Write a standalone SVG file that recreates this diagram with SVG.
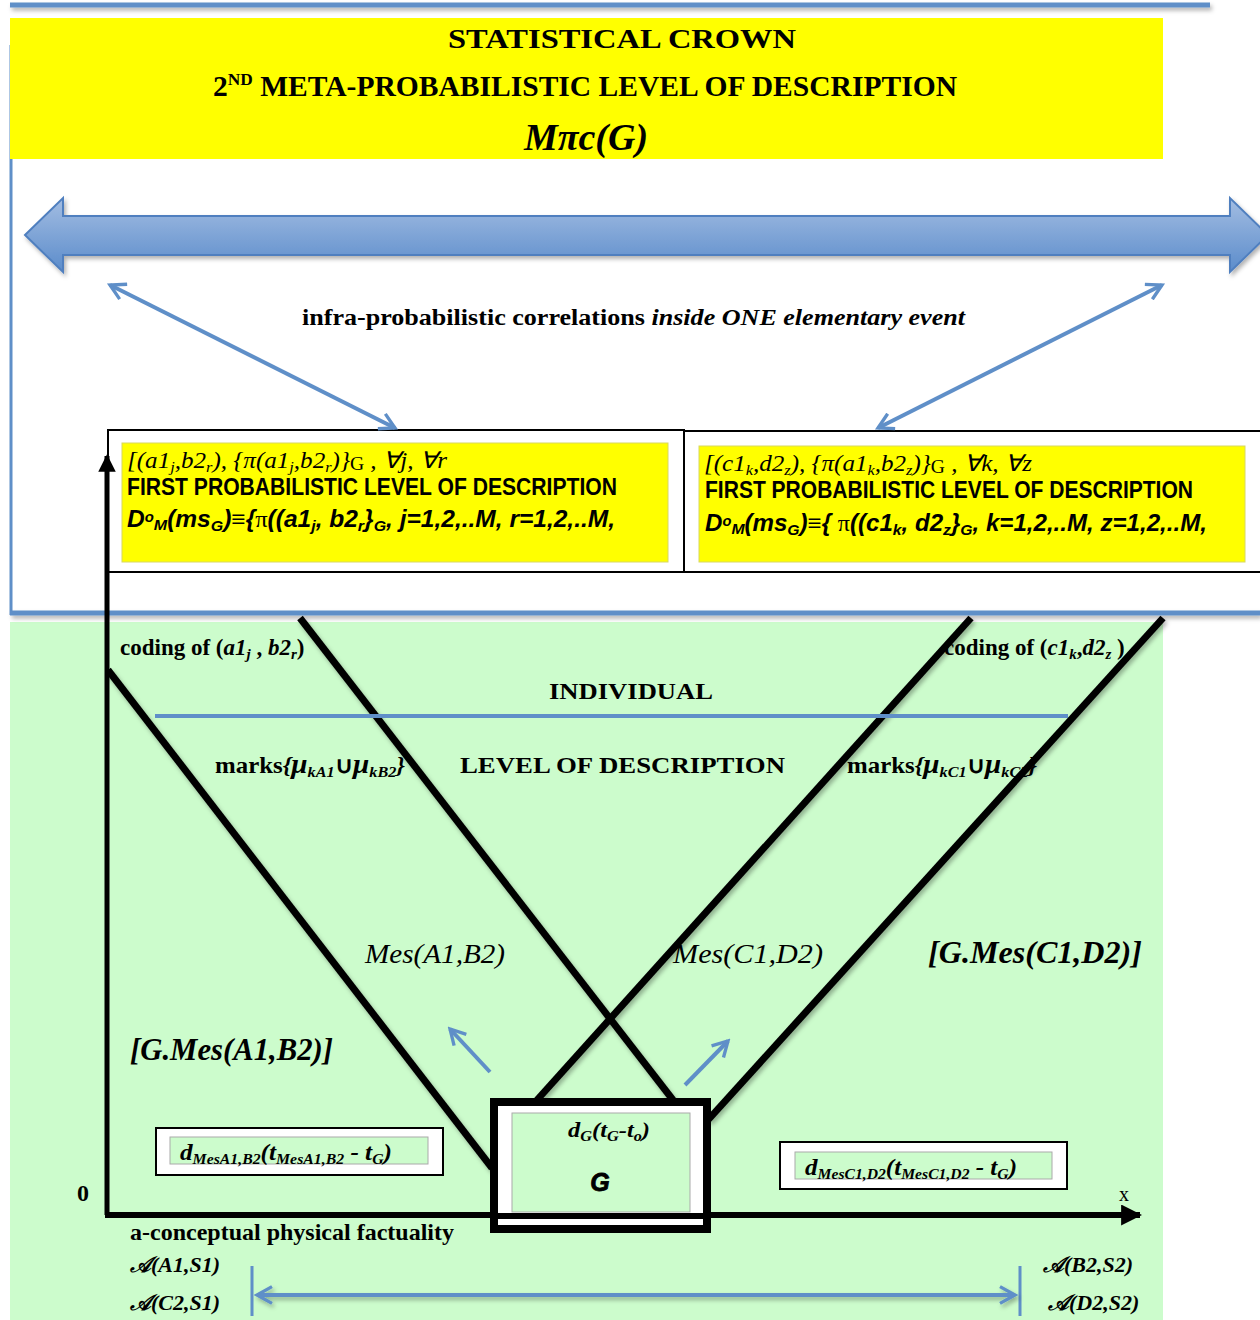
<svg xmlns="http://www.w3.org/2000/svg" width="1260" height="1320" viewBox="0 0 1260 1320">
<style>
.ser{font-family:"Liberation Serif","Times New Roman",serif}
.sans{font-family:"Liberation Sans",Arial,sans-serif}
.b{font-weight:bold}
.i{font-style:italic}
.blk{stroke:#000;stroke-width:7;fill:none}
.blu{stroke:#5f8fc8;fill:none}
</style>
<defs>
<linearGradient id="bigArr" x1="0" y1="0" x2="0" y2="1">
<stop offset="0" stop-color="#a3bde2"/>
<stop offset="1" stop-color="#5b8ccb"/>
</linearGradient>
<filter id="sh" filterUnits="userSpaceOnUse" x="0" y="0" width="1260" height="1320">
<feDropShadow dx="2" dy="3" stdDeviation="2" flood-color="#000" flood-opacity="0.3"/>
</filter>
<marker id="chev" viewBox="0 0 12 12" refX="10" refY="6" markerWidth="5" markerHeight="5" orient="auto-start-reverse" markerUnits="strokeWidth">
<path d="M1,1 L10,6 L1,11" fill="none" stroke="#5f8fc8" stroke-width="2"/>
</marker>
<marker id="blkArr" viewBox="0 0 10 10" refX="9" refY="5" markerWidth="3.5" markerHeight="3.5" orient="auto" markerUnits="strokeWidth">
<path d="M0,0 L10,5 L0,10 Z" fill="#000"/>
</marker>
</defs>

<rect x="0" y="0" width="1260" height="1320" fill="#fff"/>

<g id="background">
<rect x="10" y="622" width="1153" height="698" fill="#ccfccc"/>
<line x1="10" y1="5" x2="1210" y2="5" stroke="#5f8fc8" stroke-width="5" filter="url(#sh)"/>
<line x1="11" y1="45" x2="11" y2="615" stroke="#5f8fc8" stroke-width="3"/>
<line x1="10" y1="613" x2="1260" y2="613" stroke="#5f8fc8" stroke-width="5" filter="url(#sh)"/>
</g>

<g id="header">
<rect x="10" y="18" width="1153" height="141" fill="#ffff00"/>
<text class="ser b" x="622" y="48" font-size="28" text-anchor="middle" textLength="348" lengthAdjust="spacingAndGlyphs">STATISTICAL CROWN</text>
<text class="ser b" x="213" y="96" font-size="29" textLength="744" lengthAdjust="spacingAndGlyphs">2<tspan font-size="17" dy="-11">ND</tspan><tspan dy="11"> META-PROBABILISTIC LEVEL OF DESCRIPTION</tspan></text>
<text class="ser b i" x="586" y="150" font-size="38" text-anchor="middle">Mπc(G)</text>
</g>

<g id="big-arrow" filter="url(#sh)">
<path d="M25,235 L63,198 L63,216 L1230,216 L1230,198 L1268,235 L1230,272 L1230,255 L63,255 L63,272 Z" fill="url(#bigArr)" stroke="#4f7fbf" stroke-width="2"/>
</g>

<g id="correlations-label">
<text class="ser b" x="302" y="325" font-size="23" textLength="663" lengthAdjust="spacingAndGlyphs">infra-probabilistic correlations <tspan class="i"> inside ONE elementary event</tspan></text>
</g>

<g id="box-left">
<rect x="108" y="430" width="576" height="142" fill="#fff" stroke="#000" stroke-width="2"/>
<rect x="122" y="443" width="546" height="119" fill="#ffff00" stroke="#d8d860" stroke-width="1"/>
<text class="ser i" x="127" y="468" font-size="23" textLength="320" lengthAdjust="spacingAndGlyphs">[(a1<tspan font-size="15" dy="4">j</tspan><tspan dy="-4">,b2</tspan><tspan font-size="15" dy="4">r</tspan><tspan dy="-4">),  {π(a1</tspan><tspan font-size="15" dy="4">j</tspan><tspan dy="-4">,b2</tspan><tspan font-size="15" dy="4">r</tspan><tspan dy="-4">)}</tspan><tspan font-style="normal" font-size="18" dy="2">G</tspan><tspan dy="-2"> ,   ∀j,  ∀r</tspan></text>
<text class="sans b" x="127" y="495" font-size="23" textLength="490" lengthAdjust="spacingAndGlyphs">FIRST PROBABILISTIC LEVEL OF DESCRIPTION</text>
<text class="sans b i" x="127" y="527" font-size="23" textLength="488" lengthAdjust="spacingAndGlyphs">D<tspan font-size="14" dy="-5">o</tspan><tspan font-size="15" dy="8">M</tspan><tspan dy="-3">(ms</tspan><tspan font-size="15" dy="4">G</tspan><tspan dy="-4">)≡{</tspan><tspan class="ser" font-weight="normal" font-style="normal">π</tspan><tspan>((a1</tspan><tspan font-size="15" dy="4">j</tspan><tspan dy="-4">, b2</tspan><tspan font-size="15" dy="4">r</tspan><tspan dy="-4">}</tspan><tspan font-size="15" dy="4">G</tspan><tspan dy="-4">,  j=1,2,..M,   r=1,2,..M,</tspan></text>
</g>

<g id="box-right">
<rect x="684" y="431" width="590" height="141" fill="#fff" stroke="#000" stroke-width="2"/>
<rect x="699" y="446" width="546" height="116" fill="#ffff00" stroke="#d8d860" stroke-width="1"/>
<text class="ser i" x="704" y="471" font-size="23" textLength="328" lengthAdjust="spacingAndGlyphs">[(c1<tspan font-size="15" dy="4">k</tspan><tspan dy="-4">,d2</tspan><tspan font-size="15" dy="4">z</tspan><tspan dy="-4">),  {π(a1</tspan><tspan font-size="15" dy="4">k</tspan><tspan dy="-4">,b2</tspan><tspan font-size="15" dy="4">z</tspan><tspan dy="-4">)}</tspan><tspan font-style="normal" font-size="18" dy="2">G</tspan><tspan dy="-2"> ,   ∀k,  ∀z</tspan></text>
<text class="sans b" x="705" y="498" font-size="23" textLength="488" lengthAdjust="spacingAndGlyphs">FIRST PROBABILISTIC LEVEL OF DESCRIPTION</text>
<text class="sans b i" x="705" y="531" font-size="23" textLength="502" lengthAdjust="spacingAndGlyphs">D<tspan font-size="14" dy="-5">o</tspan><tspan font-size="15" dy="8">M</tspan><tspan dy="-3">(ms</tspan><tspan font-size="15" dy="4">G</tspan><tspan dy="-4">)≡{ </tspan><tspan class="ser" font-weight="normal" font-style="normal">π</tspan><tspan>((c1</tspan><tspan font-size="15" dy="4">k</tspan><tspan dy="-4">, d2</tspan><tspan font-size="15" dy="4">z</tspan><tspan dy="-4">}</tspan><tspan font-size="15" dy="4">G</tspan><tspan dy="-4">,  k=1,2,..M,   z=1,2,..M,</tspan></text>
</g>

<g id="connectors">
<line x1="110" y1="285" x2="395" y2="428" class="blu" stroke-width="4" marker-start="url(#chev)" marker-end="url(#chev)"/>
<line x1="1162" y1="285" x2="878" y2="428" class="blu" stroke-width="4" marker-start="url(#chev)" marker-end="url(#chev)"/>
<line x1="107" y1="1215" x2="107" y2="456" stroke="#000" stroke-width="5" marker-end="url(#blkArr)"/>
<line x1="105" y1="1215" x2="1140" y2="1215" stroke="#000" stroke-width="6" marker-end="url(#blkArr)"/>
<g filter="url(#sh)">
<line x1="108" y1="670" x2="492" y2="1168" class="blk"/>
<line x1="300" y1="618" x2="673" y2="1100" class="blk"/>
<line x1="971" y1="618" x2="537" y2="1100" class="blk"/>
<line x1="1163" y1="618" x2="708" y2="1120" class="blk"/>
</g>
<line x1="155" y1="716" x2="1068" y2="716" class="blu" stroke-width="4"/>
<line x1="490" y1="1072" x2="450" y2="1029" class="blu" stroke-width="4" marker-end="url(#chev)"/>
<line x1="685" y1="1085" x2="728" y2="1041" class="blu" stroke-width="4" marker-end="url(#chev)"/>
<line x1="252" y1="1266" x2="252" y2="1316" class="blu" stroke-width="3"/>
<line x1="1020" y1="1266" x2="1020" y2="1316" class="blu" stroke-width="3"/>
<line x1="257" y1="1295" x2="1015" y2="1295" class="blu" stroke-width="4" marker-start="url(#chev)" marker-end="url(#chev)" filter="url(#sh)"/>
</g>

<g id="individual-level">
<text class="ser b" x="120" y="655" font-size="23">coding of (<tspan class="i">a1</tspan><tspan class="i" font-size="15" dy="4">j</tspan><tspan dy="-4"> , </tspan><tspan class="i">b2</tspan><tspan class="i" font-size="15" dy="4">r</tspan><tspan dy="-4">)</tspan></text>
<text class="ser b" x="944" y="655" font-size="23">coding of (<tspan class="i">c1</tspan><tspan class="i" font-size="15" dy="4">k</tspan><tspan dy="-4">,</tspan><tspan class="i">d2</tspan><tspan class="i" font-size="15" dy="4">z</tspan><tspan dy="-4"> )</tspan></text>
<text class="ser b" x="631" y="699" font-size="24" text-anchor="middle" textLength="164" lengthAdjust="spacingAndGlyphs">INDIVIDUAL</text>
<text class="ser b" x="460" y="773" font-size="24" textLength="325" lengthAdjust="spacingAndGlyphs">LEVEL OF DESCRIPTION</text>
<text class="ser b" x="215" y="773" font-size="23" textLength="190" lengthAdjust="spacingAndGlyphs">marks<tspan class="i">{</tspan><tspan class="i" font-size="27">μ</tspan><tspan class="i" font-size="15" dy="4">kA1</tspan><tspan dy="-4">∪</tspan><tspan class="i" font-size="27">μ</tspan><tspan class="i" font-size="15" dy="4">kB2</tspan><tspan class="i" dy="-4">}</tspan></text>
<text class="ser b" x="847" y="773" font-size="23" textLength="190" lengthAdjust="spacingAndGlyphs">marks<tspan class="i">{</tspan><tspan class="i" font-size="27">μ</tspan><tspan class="i" font-size="15" dy="4">kC1</tspan><tspan dy="-4">∪</tspan><tspan class="i" font-size="27">μ</tspan><tspan class="i" font-size="15" dy="4">kC2</tspan><tspan class="i" dy="-4">}</tspan></text>
</g>

<g id="measurements">
<text class="ser i" x="365" y="963" font-size="28" textLength="140" lengthAdjust="spacingAndGlyphs">Mes(A1,B2)</text>
<text class="ser i" x="673" y="963" font-size="28" textLength="150" lengthAdjust="spacingAndGlyphs">Mes(C1,D2)</text>
<text class="ser b i" x="928" y="963" font-size="31" textLength="214" lengthAdjust="spacingAndGlyphs">[G.Mes(C1,D2)]</text>
<text class="ser b i" x="130" y="1060" font-size="31" textLength="203" lengthAdjust="spacingAndGlyphs">[G.Mes(A1,B2)]</text>
</g>

<g id="box-mes-a1b2">
<rect x="156" y="1128" width="287" height="47" fill="#fff" stroke="#000" stroke-width="2"/>
<rect x="170" y="1137" width="258" height="27" fill="#ccfccc" stroke="#aaa" stroke-width="1"/>
<text class="ser b i" x="180" y="1160" font-size="24" textLength="212" lengthAdjust="spacingAndGlyphs">d<tspan font-size="15" dy="4">MesA1,B2</tspan><tspan dy="-4">(t</tspan><tspan font-size="15" dy="4">MesA1,B2</tspan><tspan dy="-4"> - t</tspan><tspan font-size="15" dy="4">G</tspan><tspan dy="-4">)</tspan></text>
</g>

<g id="box-mes-c1d2">
<rect x="780" y="1142" width="287" height="47" fill="#fff" stroke="#000" stroke-width="2"/>
<rect x="795" y="1152" width="257" height="27" fill="#ccfccc" stroke="#aaa" stroke-width="1"/>
<text class="ser b i" x="805" y="1175" font-size="24" textLength="212" lengthAdjust="spacingAndGlyphs">d<tspan font-size="15" dy="4">MesC1,D2</tspan><tspan dy="-4">(t</tspan><tspan font-size="15" dy="4">MesC1,D2</tspan><tspan dy="-4"> - t</tspan><tspan font-size="15" dy="4">G</tspan><tspan dy="-4">)</tspan></text>
</g>

<g id="box-G">
<rect x="494" y="1102" width="213" height="127" fill="#fff" stroke="#000" stroke-width="8"/>
<rect x="512" y="1113" width="178" height="99" fill="#ccfccc" stroke="#aaa" stroke-width="1"/>
<line x1="490" y1="1216" x2="711" y2="1216" stroke="#000" stroke-width="6"/>
<text class="ser b i" x="568" y="1137" font-size="21" textLength="82" lengthAdjust="spacingAndGlyphs">d<tspan font-size="14" dy="4">G</tspan><tspan dy="-4">(t</tspan><tspan font-size="14" dy="4">G</tspan><tspan dy="-4">-t</tspan><tspan font-size="14" dy="4">o</tspan><tspan dy="-4">)</tspan></text>
<text class="sans b i" x="600" y="1191" font-size="25" text-anchor="middle" stroke="#000" stroke-width="0.8">G</text>
</g>

<g id="axes-labels">
<text class="ser b" x="77" y="1201" font-size="24">0</text>
<text class="ser" x="1119" y="1201" font-size="20">x</text>
<text class="ser b" x="130" y="1240" font-size="23" textLength="324" lengthAdjust="spacingAndGlyphs">a-conceptual physical factuality</text>
<text class="ser b i" x="130" y="1272" font-size="22">𝒜(A1,S1)</text>
<text class="ser b i" x="130" y="1310" font-size="22">𝒜(C2,S1)</text>
<text class="ser b i" x="1043" y="1272" font-size="22">𝒜(B2,S2)</text>
<text class="ser b i" x="1048" y="1310" font-size="22">𝒜(D2,S2)</text>
</g>
</svg>
